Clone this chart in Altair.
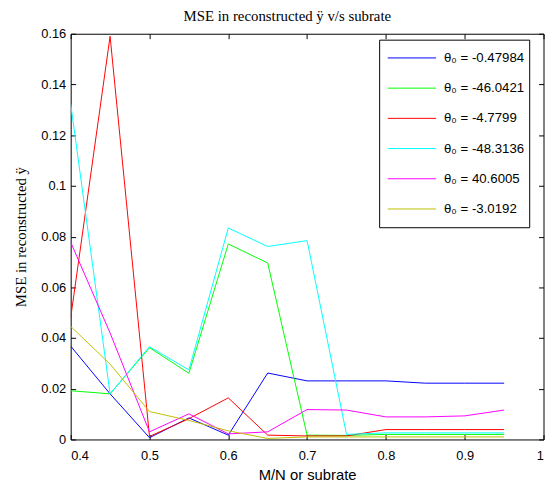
import altair as alt
import pandas as pd

x_vals = [0.4, 0.45, 0.5, 0.55, 0.6, 0.65, 0.7, 0.75, 0.8, 0.85, 0.9, 0.95]

series_names = [
    "θ₀ = -0.47984",
    "θ₀ = -46.0421",
    "θ₀ = -4.7799",
    "θ₀ = -48.3136",
    "θ₀ = 40.6005",
    "θ₀ = -3.0192",
]
series_colors = ["#0000FF", "#00FF00", "#FF0000", "#00FFFF", "#FF00FF", "#BFBF00"]

blue = [0.0368, 0.018, 0.0007, 0.0085, 0.0017, 0.0262, 0.0231, 0.0231, 0.0231, 0.0222, 0.0222, 0.0222]
green = [0.0192, 0.018, 0.0362, 0.0261, 0.0771, 0.0696, 0.0017, 0.0016, 0.002, 0.002, 0.002, 0.002]
red = [0.048, 0.159, 0.0012, 0.0082, 0.0164, 0.0017, 0.0014, 0.0014, 0.0039, 0.0039, 0.0039, 0.0039]
cyan = [0.1324, 0.018, 0.0366, 0.0274, 0.0834, 0.0761, 0.0784, 0.002, 0.0026, 0.0026, 0.0026, 0.0026]
magenta = [0.0778, 0.042, 0.003, 0.0101, 0.0022, 0.003, 0.0118, 0.0116, 0.0089, 0.0089, 0.0093, 0.0116]
yellow = [0.0446, 0.0297, 0.011, 0.0075, 0.0034, 0.0004, 0.001, 0.001, 0.001, 0.001, 0.001, 0.001]

x_ticks = [0.4, 0.5, 0.6, 0.7, 0.8, 0.9, 1.0]
y_ticks = [0, 0.02, 0.04, 0.06, 0.08, 0.1, 0.12, 0.14, 0.16]

rows = []
for name, ys in zip(series_names, [blue, green, red, cyan, magenta, yellow]):
    for i, (xv, yv) in enumerate(zip(x_vals, ys)):
        rows.append({"series": name, "x": xv, "y": yv, "idx": i})
df = pd.DataFrame(rows)

W, H = 479, 411
SANS = "Liberation Sans"
SERIF = "Liberation Serif"

xs = alt.Scale(domain=[0.4, 1.0], nice=False, zero=False)
ys_ = alt.Scale(domain=[0, 0.16], nice=False, zero=False)

base = alt.Chart(df)

lines = base.mark_line(strokeWidth=1, clip=True).encode(
    x=alt.X("x:Q", scale=xs, axis=alt.Axis(
        orient="bottom", values=x_ticks, format="~g", ticks=False, tickSize=0,
        domain=False, grid=False, labelFont=SANS, labelFontSize=13,
        labelColor="black", labelPadding=10, title="M/N or subrate",
        titleFont=SANS, titleFontSize=15, titleFontWeight="normal",
        titleColor="black", titlePadding=6)),
    y=alt.Y("y:Q", scale=ys_, axis=alt.Axis(
        orient="left", values=y_ticks, format="~g", ticks=False, tickSize=0,
        domain=False, grid=False, labelFont=SANS, labelFontSize=13,
        labelColor="black", labelPadding=5, title="MSE in reconstructed ÿ",
        titleFont=SERIF, titleFontSize=15, titleFontWeight="normal",
        titleColor="black", titlePadding=12)),
    color=alt.Color("series:N", sort=series_names,
                    scale=alt.Scale(domain=series_names, range=series_colors),
                    legend=alt.Legend(
                        title=None, orient="none", legendX=312.5, legendY=6,
                        padding=4.5, strokeColor="black", fillColor="white",
                        symbolType="stroke", symbolSize=2401, symbolStrokeWidth=1,
                        clipHeight=28, rowPadding=2.6, symbolOffset=3.7,
                        labelOffset=7.5, labelFont=SANS, labelFontSize=13.4,
                        labelColor="black", labelLimit=300)),
    order="idx:Q",
)

ticks_a = base.mark_point(opacity=0).encode(
    x=alt.X("x:Q", scale=xs, axis=alt.Axis(
        orient="top", offset=-H, values=x_ticks, labels=False, domain=False,
        grid=False, tickSize=5, tickColor="black", title="")),
    y=alt.Y("y:Q", scale=ys_, axis=alt.Axis(
        orient="right", offset=-W, values=y_ticks, labels=False, domain=False,
        grid=False, tickSize=5, tickColor="black", title="")),
)

ticks_b = base.mark_point(opacity=0).encode(
    x=alt.X("x:Q", scale=xs, axis=alt.Axis(
        orient="bottom", offset=-H, values=x_ticks, labels=False, domain=False,
        grid=False, tickSize=5, tickColor="black", title="")),
    y=alt.Y("y:Q", scale=ys_, axis=alt.Axis(
        orient="left", offset=-W, values=y_ticks, labels=False, domain=False,
        grid=False, tickSize=5, tickColor="black", title="")),
)

chart = alt.layer(lines, ticks_a, ticks_b).resolve_axis(
    x="independent", y="independent"
).properties(
    width=W, height=H,
    autosize=alt.AutoSizeParams(type="none"),
    padding={"left": 63.5, "top": 23, "right": 1.5, "bottom": 40},
    background="white",
    title=alt.TitleParams(
        text="MSE in reconstructed ÿ v/s subrate", font=SERIF, fontSize=15,
        fontWeight="normal", color="black", anchor="middle", frame="group",
        dx=-20, offset=-11, baseline="bottom"),
).configure_view(stroke="black", strokeWidth=1)

chart.save("out.html", embed_options={"renderer": "svg", "actions": False})
